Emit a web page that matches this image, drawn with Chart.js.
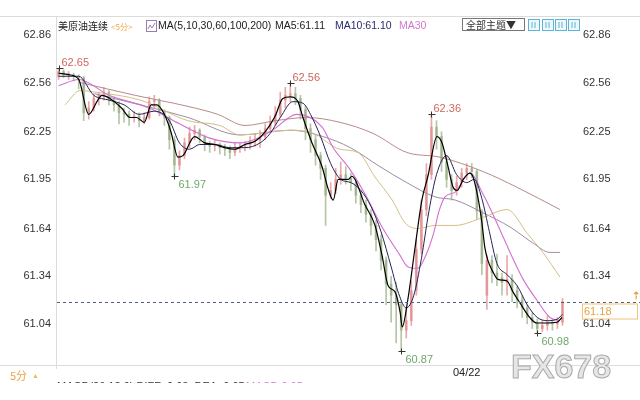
<!DOCTYPE html>
<html>
<head>
<meta charset="utf-8">
<script src="https://cdn.jsdelivr.net/npm/chart.js@4.4.1/dist/chart.umd.min.js"></script>
<style>
  html, body { margin: 0; padding: 0; background: #fff; }
  #wrap { width: 640px; height: 400px; }
</style>
</head>
<body>
<div id="wrap"><canvas id="chart" width="640" height="400"></canvas></div>
<script>
// 5 minute bars
const openP = [
  62.60, 62.63, 62.61, 62.61, 62.60, 62.59, 62.37, 62.40, 62.46, 62.48,
  62.50, 62.45, 62.42, 62.37, 62.36, 62.34, 62.35, 62.32, 62.34, 62.44,
  62.45, 62.38, 62.34, 62.20, 62.04, 62.10, 62.18, 62.24, 62.26, 62.22,
  62.17, 62.16, 62.17, 62.15, 62.14, 62.12, 62.15, 62.16, 62.17, 62.19,
  62.20, 62.22, 62.27, 62.31, 62.36, 62.45, 62.48, 62.49, 62.46, 62.39,
  62.27, 62.20, 62.10, 62.02, 61.85, 61.88, 61.95, 61.98, 61.96, 61.93,
  61.85, 61.79, 61.73, 61.66, 61.57, 61.44, 61.29, 61.22, 61.16, 61.00,
  61.06, 61.25, 61.51, 61.76, 61.98, 62.28, 62.22, 62.06, 61.95, 61.88,
  61.93, 61.99, 62.02, 62.00, 61.75, 61.22, 61.44, 61.36, 61.33, 61.30,
  61.32, 61.25, 61.19, 61.14, 61.08, 61.05, 61.01, 61.03, 61.05, 61.04,
  61.05
];
const highP = [
  62.65, 62.64, 62.63, 62.62, 62.61, 62.60, 62.44, 62.49, 62.50, 62.53,
  62.51, 62.47, 62.44, 62.40, 62.38, 62.38, 62.37, 62.37, 62.47, 62.48,
  62.46, 62.39, 62.35, 62.22, 62.13, 62.21, 62.28, 62.29, 62.27, 62.23,
  62.19, 62.20, 62.18, 62.17, 62.16, 62.18, 62.18, 62.19, 62.22, 62.24,
  62.26, 62.30, 62.35, 62.41, 62.50, 62.53, 62.56, 62.53, 62.48, 62.41,
  62.30, 62.23, 62.12, 62.04, 61.93, 62.02, 62.06, 62.03, 61.99, 61.95,
  61.88, 61.82, 61.76, 61.69, 61.60, 61.46, 61.34, 61.30, 61.18, 61.14,
  61.31, 61.57, 61.82, 62.05, 62.36, 62.32, 62.25, 62.10, 61.98, 61.97,
  62.02, 62.05, 62.05, 62.01, 61.76, 61.47, 61.47, 61.48, 61.36, 61.47,
  61.35, 61.28, 61.22, 61.16, 61.11, 61.07, 61.06, 61.09, 61.07, 61.08,
  61.20
];
const lowP = [
  62.58, 62.59, 62.58, 62.57, 62.52, 62.32, 62.33, 62.38, 62.42, 62.45,
  62.42, 62.38, 62.30, 62.31, 62.29, 62.31, 62.28, 62.30, 62.33, 62.40,
  62.35, 62.29, 62.14, 61.97, 62.01, 62.08, 62.15, 62.20, 62.18, 62.13,
  62.12, 62.13, 62.11, 62.10, 62.08, 62.10, 62.12, 62.13, 62.14, 62.16,
  62.15, 62.20, 62.25, 62.29, 62.34, 62.40, 62.44, 62.42, 62.33, 62.20,
  62.12, 62.04, 61.95, 61.66, 61.83, 61.86, 61.92, 61.92, 61.88, 61.80,
  61.74, 61.68, 61.60, 61.50, 61.38, 61.16, 61.05, 60.92, 60.87, 60.95,
  61.03, 61.22, 61.48, 61.72, 61.95, 62.14, 62.00, 61.90, 61.82, 61.85,
  61.90, 61.95, 61.96, 61.70, 61.35, 61.13, 61.30, 61.28, 61.22, 61.22,
  61.18, 61.14, 61.08, 61.04, 61.01, 60.98, 60.99, 61.00, 61.00, 61.01,
  61.03
];
const closeP = [
  62.63, 62.61, 62.61, 62.60, 62.59, 62.37, 62.40, 62.46, 62.48, 62.50,
  62.45, 62.42, 62.37, 62.36, 62.34, 62.35, 62.32, 62.34, 62.44, 62.45,
  62.38, 62.34, 62.20, 62.04, 62.10, 62.18, 62.24, 62.26, 62.22, 62.17,
  62.16, 62.17, 62.15, 62.14, 62.12, 62.15, 62.16, 62.17, 62.19, 62.20,
  62.22, 62.27, 62.31, 62.36, 62.45, 62.48, 62.49, 62.46, 62.39, 62.27,
  62.20, 62.10, 62.02, 61.85, 61.88, 61.95, 61.98, 61.96, 61.93, 61.85,
  61.79, 61.73, 61.66, 61.57, 61.44, 61.29, 61.22, 61.16, 61.00, 61.06,
  61.25, 61.51, 61.76, 61.98, 62.28, 62.22, 62.06, 61.95, 61.88, 61.93,
  61.99, 62.02, 62.00, 61.75, 61.42, 61.44, 61.36, 61.33, 61.30, 61.32,
  61.25, 61.19, 61.14, 61.08, 61.05, 61.01, 61.03, 61.05, 61.04, 61.05,
  61.18
];

// moving averages as [bar index, price]
const ma5 = [[0,62.62],[2,62.61],[4,62.58],[6,62.36],[7.8,62.45],[8.6,62.48],[10.2,62.46],[12.5,62.40],
  [14.2,62.34],[15.5,62.34],[17,62.31],[18.4,62.42],[19.5,62.42],[21,62.36],[22.3,62.25],[23.7,62.09],
  [24.7,62.10],[27,62.22],[29,62.18],[31,62.17],[33,62.15],[35,62.14],[37,62.17],[39,62.19],[41,62.25],
  [43,62.35],[44.5,62.46],[46,62.47],[47.5,62.44],[48.5,62.34],[50.3,62.18],[52.3,62.03],[53.5,61.89],
  [54.5,61.82],[55.5,61.95],[57.5,61.95],[58.2,61.97],[60.8,61.79],[62.8,61.66],[64.2,61.47],[65.4,61.28],
  [66.8,61.24],[67.8,61.11],[68.2,61.02],[69.3,61.19],[70.7,61.51],[72.1,61.82],[73.3,61.97],[75.1,62.22],
  [76.1,62.18],[77.3,62.03],[78.3,61.90],[79.1,61.88],[80.3,61.95],[81.6,61.99],[82.2,61.97],[83.2,61.84],
  [84,61.68],[84.6,61.52],[85.2,61.44],[86,61.38],[87.2,61.32],[89,61.31],[90.2,61.24],[91.6,61.17],
  [93.5,61.08],[94.9,61.045],[96.9,61.045],[98.9,61.05],[99.9,61.08]];
const ma10 = [[0,62.60],[4,62.60],[7,62.48],[10,62.45],[13,62.42],[16,62.36],[19,62.38],[22,62.32],
  [24,62.18],[26,62.14],[28,62.17],[31,62.17],[34,62.15],[37,62.15],[40,62.18],[42,62.24],[44,62.34],
  [46.5,62.44],[48.5,62.43],[50,62.36],[52,62.22],[54,62.05],[56,61.95],[58,61.93],[60,61.88],[62,61.78],
  [64,61.62],[66,61.40],[67.5,61.23],[69,61.14],[70.5,61.22],[72,61.45],[73.5,61.75],[75,61.98],[77,62.10],
  [79,61.98],[81,61.93],[82.5,61.95],[84,61.83],[85.5,61.62],[87,61.42],[89,61.35],[91,61.28],[93,61.16],
  [95,61.08],[97,61.06],[99,61.07],[100,61.10]];
const ma30 = [[0,62.54],[4,62.58],[10,62.48],[18,62.40],[24,62.30],[30,62.21],[36,62.18],[42,62.25],
  [47.3,62.36],[52.3,62.28],[54.5,62.15],[57.9,62.01],[60.8,61.86],[64.2,61.65],[67.8,61.47],[69.3,61.40],
  [71.3,61.39],[73,61.48],[74.5,61.62],[75.5,61.75],[76.7,61.84],[78.7,61.87],[81.6,61.99],[84.2,61.86],
  [87.2,61.66],[89.6,61.49],[92.2,61.32],[94.9,61.19],[97.5,61.08],[99.5,61.06]];
const ma60 = [[1.3,62.42],[4.3,62.51],[7.2,62.50],[16.2,62.45],[25.7,62.32],[32,62.29],[36,62.23],
  [46,62.26],[50.6,62.24],[55.8,62.14],[59.4,62.12],[62.8,61.965],[66.2,61.82],[68.8,61.675],[71.3,61.64],
  [74.7,61.66],[78.7,61.66],[84.2,61.71],[89,61.76],[93,61.61],[96.1,61.49],[99.5,61.335]];
const ma100 = [[7.2,62.49],[25.7,62.34],[36,62.23],[46,62.26],[52.5,62.22],[57.9,62.15],[63.8,62.03],
  [69.1,61.93],[74.7,61.84],[78.7,61.82],[84.2,61.74],[89.6,61.65],[94.1,61.55],[97.5,61.49],[99.5,61.49]];
const ma200 = [[4.3,62.56],[15.2,62.48],[25.7,62.41],[31.6,62.36],[37,62.29],[43,62.32],[49.3,62.34],
  [55.8,62.31],[62.4,62.24],[69.1,62.12],[75.7,62.09],[84.2,62.00],[91,61.90],[99.5,61.76]];

const yTicks = [62.86, 62.56, 62.25, 61.95, 61.64, 61.34, 61.04];
const xTickIdx = [81];
const xTickText = ["04/22"];

const markIdx = [0, 46, 74, 23, 68, 95];
const markVal = [62.65, 62.56, 62.36, 61.97, 60.87, 60.98];
const markHigh = [true, true, true, false, false, false];
const lastPrice = 61.18;

const upColor = "rgba(226,140,140,0.75)";
const downColor = "rgba(150,172,128,0.7)";
const candleColors = closeP.map((c, i) => (c >= openP[i] ? upColor : downColor));
const idx = closeP.map((_, i) => i);
const pts = (arr) => arr.map((p) => ({ x: p[0], y: p[1] }));

const maLine = (label, arr, color, width, order) => ({
  type: "line",
  label,
  data: pts(arr),
  borderColor: color,
  borderWidth: width,
  pointRadius: 0,
  cubicInterpolationMode: "monotone",
  order,
});

const fontUI = "Arial, 'Liberation Sans', sans-serif";
const fontCJK = "'Noto Sans CJK SC', sans-serif";

const decor = {
  id: "decor",
  beforeDraw(chart) {
    const c = chart.ctx;
    c.save();
    c.fillStyle = "#fff";
    c.fillRect(0, 0, chart.width, chart.height);
    c.strokeStyle = "#dcdcdc";
    c.lineWidth = 1;
    c.beginPath();
    c.moveTo(0, 16.5); c.lineTo(640, 16.5);
    c.moveTo(0, 365.5); c.lineTo(640, 365.5);
    c.moveTo(56.5, 17); c.lineTo(56.5, 369);
    c.stroke();
    c.restore();
  },
  afterDraw(chart) {
    const c = chart.ctx;
    const xs = chart.scales.x, ys = chart.scales.y;
    c.save();

    // current price dashed line
    const yp = Math.round(ys.getPixelForValue(lastPrice)) + 0.5;
    c.strokeStyle = "#51607e";
    c.setLineDash([3, 3]);
    c.beginPath();
    c.moveTo(57, yp); c.lineTo(640, yp);
    c.stroke();
    c.setLineDash([]);
    c.fillStyle = "#fff";
    c.fillRect(582, yp + 1, 56, 15);
    c.strokeStyle = "#f0c27a";
    c.strokeRect(582.5, yp + 1.5, 55, 15);
    c.fillStyle = "#e8a040";
    c.font = "11px " + fontUI;
    c.textBaseline = "middle";
    c.textAlign = "left";
    c.fillText(lastPrice.toFixed(2), 584, yp + 9);
    c.font = "bold 10px " + fontUI;
    c.fillText("⇡", 632, yp - 6);

    // high / low marks
    c.font = "11px " + fontUI;
    markIdx.forEach((i, k) => {
      const px = Math.round(xs.getPixelForValue(i)) + 0.5;
      const py = Math.round(ys.getPixelForValue(markVal[k])) + 0.5;
      c.strokeStyle = "#333";
      c.beginPath();
      c.moveTo(px - 3, py); c.lineTo(px + 4, py);
      c.moveTo(px, py - 3); c.lineTo(px, py + 3);
      c.stroke();
      c.fillStyle = markHigh[k] ? "#d0675f" : "#6fa86b";
      if (markHigh[k]) c.fillText(markVal[k].toFixed(2), px + 2, py - 6);
      else c.fillText(markVal[k].toFixed(2), px + 4, py + 8);
    });

    // title row
    c.textBaseline = "middle";
    c.fillStyle = "#222";
    c.font = "10px " + fontCJK;
    c.fillText("美原油连续", 58, 26);
    c.fillStyle = "#f0a848";
    c.font = "8px " + fontCJK;
    c.fillText("<5分>", 111, 27);
    c.strokeStyle = "#9b7cb6";
    c.strokeRect(146.5, 20.5, 10, 11);
    c.beginPath();
    c.moveTo(148, 29); c.lineTo(150, 25); c.lineTo(152, 28); c.lineTo(155, 23);
    c.stroke();
    c.font = "10.5px " + fontUI;
    c.fillStyle = "#222";
    c.fillText("MA(5,10,30,60,100,200)", 158, 26);
    c.fillText("MA5:61.11", 275, 26);
    c.fillStyle = "#2a2a6c";
    c.fillText("MA10:61.10", 335, 26);
    c.fillStyle = "#d478cf";
    c.fillText("MA30", 399, 26);

    c.strokeStyle = "#777";
    c.strokeRect(462.5, 18.5, 62, 12);
    c.fillStyle = "#333";
    c.font = "10px " + fontCJK;
    c.fillText("全部主题▼", 466, 25);
    [528, 542, 555, 568].forEach((x) => {
      c.fillStyle = "#eef8fc";
      c.fillRect(x + 0.5, 19.5, 11, 11);
      c.strokeStyle = "#5db4d4";
      c.strokeRect(x + 0.5, 19.5, 11, 11);
      c.beginPath();
      c.moveTo(x + 4, 22); c.lineTo(x + 4, 28);
      c.moveTo(x + 7, 22); c.lineTo(x + 7, 28);
      c.stroke();
    });

    // bottom strip
    c.fillStyle = "#f0a040";
    c.font = "11px " + fontCJK;
    c.fillText("5分", 10, 376);
    c.font = "7px " + fontUI;
    c.fillStyle = "#f2b868";
    c.fillText("▲", 32, 376);

    c.save();
    c.beginPath();
    c.rect(56, 370, 300, 13);
    c.clip();
    c.font = "11px " + fontUI;
    c.fillStyle = "#333";
    c.fillText("MACD(26,12,9) DIFF: 0.03  DEA: 0.05", 57, 387);
    c.fillStyle = "#d478cf";
    c.fillText("MACD:0.05", 246, 387);
    c.restore();

    // watermark
    c.font = "bold 34px " + fontUI;
    c.textBaseline = "alphabetic";
    c.fillStyle = "#e6e6e6";
    c.strokeStyle = "#a9a9a9";
    c.lineWidth = 1;
    c.fillText("FX678", 511, 378);
    c.strokeText("FX678", 511, 378);
    c.restore();
  },
};

new Chart(document.getElementById("chart"), {
  type: "bar",
  data: {
    datasets: [
      {
        label: "wick",
        data: idx.map((i) => ({ x: i, y: [lowP[i], highP[i]] })),
        backgroundColor: candleColors,
        barThickness: 1,
        grouped: false,
        order: 20,
      },
      {
        label: "body",
        data: idx.map((i) => ({ x: i, y: [openP[i], closeP[i]] })),
        backgroundColor: candleColors,
        barThickness: 2,
        minBarLength: 1,
        grouped: false,
        order: 19,
      },
      maLine("MA200", ma200, "#b98a8a", 1, 6),
      maLine("MA100", ma100, "#9f8ca6", 1, 5),
      maLine("MA60", ma60, "#d3bf86", 1, 4),
      maLine("MA30", ma30, "#d46fd0", 1.1, 3),
      maLine("MA10", ma10, "#24245a", 1, 2),
      maLine("MA5", ma5, "#000000", 1.2, 1),
    ],
  },
  options: {
    responsive: false,
    animation: false,
    layout: { padding: { top: 35, left: 0, right: 0, bottom: 0 } },
    plugins: { legend: { display: false }, tooltip: { enabled: false } },
    scales: {
      x: {
        type: "linear",
        min: -0.5,
        max: 100.5,
        offset: false,
        grid: { display: false, drawTicks: false },
        border: { display: false },
        afterBuildTicks: (s) => { s.ticks = xTickIdx.map((v) => ({ value: v })); },
        afterFit: (s) => { s.height = 40; },
        ticks: {
          autoSkip: false,
          maxRotation: 0,
          padding: 6,
          color: "#222",
          font: { size: 11, family: fontUI },
          callback: (v) => xTickText[xTickIdx.indexOf(v)] || "",
        },
      },
      y: {
        position: "left",
        min: 60.812,
        max: 62.86,
        grid: { display: false, drawTicks: false },
        border: { display: false },
        afterBuildTicks: (s) => { s.ticks = yTicks.map((v) => ({ value: v })); },
        afterFit: (s) => { s.width = 56; },
        ticks: {
          padding: 5,
          color: "#333",
          font: { size: 11, family: fontUI },
          callback: (v) => v.toFixed(2),
        },
      },
      y2: {
        position: "right",
        min: 60.812,
        max: 62.86,
        grid: { display: false, drawTicks: false },
        border: { display: false },
        afterBuildTicks: (s) => { s.ticks = yTicks.map((v) => ({ value: v })); },
        afterFit: (s) => { s.width = 75; },
        ticks: {
          padding: 18,
          color: "#333",
          font: { size: 11, family: fontUI },
          callback: (v) => v.toFixed(2),
        },
      },
    },
  },
  plugins: [decor],
});
</script>
</body>
</html>
